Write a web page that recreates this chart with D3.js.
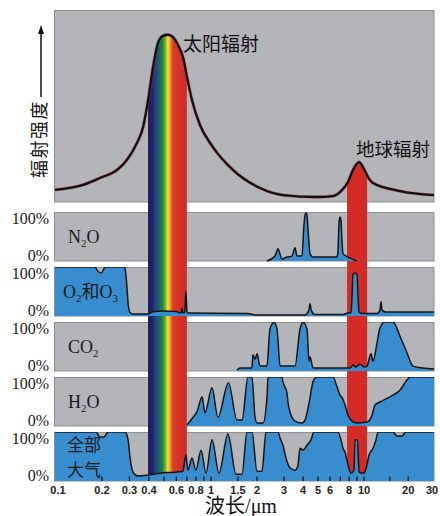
<!DOCTYPE html>
<html>
<head>
<meta charset="utf-8">
<script src="https://cdn.jsdelivr.net/npm/d3@7"></script>
<style>
body { margin: 0; background: #fff; }
svg { display: block; }
</style>
</head>
<body>
<svg id="chart" width="440" height="516"></svg>
<script>
// top panel: [wavelength um, relative intensity]
const solarCurve = [[0.1,6.3],[0.151,8.9],[0.194,12.5],[0.25,16.7],[0.289,21.9],[0.335,30.7],[0.367,39],
  [0.395,53],[0.425,70.3],[0.457,82.8],[0.492,86.5],[0.53,87.1],[0.571,85.9],[0.614,81.8],[0.661,75.5],
  [0.702,65.1],[0.755,53.1],[0.85,40.1],[1.03,28.6],[1.39,16.7],[2.09,7.3],[2.96,3.6],[4.93,2.6],[6.27,3.1],
  [7.29,6.8],[7.86,10.4],[8.47,16.7],[9.28,20.8],[9.85,18.2],[10.65,13],[11.52,9.9],[17.6,5.7],[30,3.6]];

// absorption panels: [wavelength um, absorption %]
const n2o = [[2.32,0],[2.62,10],[2.74,25],[2.91,4],[3.14,8],[3.38,10],[3.54,27],[3.65,10],[3.93,10],
  [4.05,73],[4.12,94],[4.18,98],[4.24,94],[4.31,63],[4.44,15],[4.64,8],[6.66,8],[6.76,21],[6.87,79],
  [6.97,90],[7.07,83],[7.18,42],[7.29,15],[8.1,6],[9.0,0]];
const ozone = [[0.1,100],[0.18,100],[0.19,90],[0.198,88],[0.21,100],[0.278,100],[0.283,92],[0.289,60],
  [0.295,22],[0.303,7],[0.316,4],[0.395,4],[0.42,8],[0.5,10],[0.6,9],[0.642,6],[0.652,16],[0.661,6],
  [0.68,8],[0.69,50],[0.702,8],[0.723,6],[1.72,5],[2.0,2],[4.11,2],[4.36,12],[4.44,25],[4.52,12],[4.78,3],
  [7.29,3],[7.86,6],[8.22,6],[8.35,40],[8.47,85],[8.73,88],[9.0,85],[9.14,40],[9.28,8],[9.7,5],
  [12.26,5],[12.85,12],[13.06,29],[13.26,12],[14.12,8],[30,8]];
const co2 = [[1.48,2],[1.55,6],[1.85,6],[1.88,33],[1.94,24],[2.0,35],[2.09,10],[2.32,10],[2.43,86],
  [2.58,99],[2.7,86],[2.83,10],[3.54,10],[3.82,86],[3.99,99],[4.24,86],[4.37,20],[4.44,29],[4.64,6],
  [8.1,6],[8.47,12],[8.87,8],[9.42,14],[10,8],[10.48,10],[11.16,35],[11.52,20],[12.26,57],[12.85,88],
  [13.9,100],[15.76,100],[17.59,71],[19.64,37],[21.58,10],[25.24,6],[30,4]];
const h2o = [[0.702,2],[0.767,18],[0.813,29],[0.876,59],[0.915,27],[1.015,78],[1.11,18],[1.3,88],
  [1.48,12],[1.595,12],[1.745,100],[1.853,100],[1.94,18],[2.0,6],[2.187,6],[2.323,59],[2.358,100],
  [2.91,100],[2.955,90],[3.14,67],[3.185,49],[3.28,29],[3.54,10],[3.934,6],[4.115,12],[4.436,57],
  [4.64,90],[4.93,100],[6.27,100],[6.66,80],[6.97,63],[7.2,58],[7.51,43],[7.86,22],[8.35,10],[9.0,6],
  [10.48,8],[11.34,22],[11.88,43],[12.85,49],[15.76,63],[17.59,73],[19.64,94],[20.58,100],[30,100]];
const wholeAtmosphere = [[0.1,100],[0.183,100],[0.194,90],[0.206,90],[0.219,100],[0.281,100],[0.294,84],
  [0.303,47],[0.316,18],[0.34,10],[0.395,12],[0.471,16],[0.588,18],[0.661,20],[0.69,53],[0.712,22],
  [0.755,47],[0.801,22],[0.863,63],[0.929,16],[1.015,84],[1.128,16],[1.291,96],[1.457,14],[1.595,14],
  [1.719,100],[1.853,100],[1.999,20],[2.154,20],[2.288,100],[2.74,100],[2.825,88],[2.955,73],[3.09,47],
  [3.28,27],[3.54,22],[3.7,31],[3.817,67],[3.993,63],[4.24,73],[4.505,84],[4.71,100],[6.76,100],
  [7.07,84],[7.29,67],[7.51,59],[7.86,33],[8.22,16],[8.6,22],[8.73,84],[9.07,84],[9.275,18],[10,16],
  [10.48,33],[10.82,53],[11.52,67],[12.07,84],[12.46,100],[15.76,100],[16.79,92],[18.15,92],[19.33,100],[30,100]];

const gasLabels = ["N_2O", "O_2和O_3", "CO_2", "H_2O", "全部\n大气"];
const visibleBand = [0.395, 0.70];
const earthBand = [7.75, 10.5];
const tickValues = [0.2,0.3,0.4,0.5,0.6,0.7,0.8,0.9,1,1.5,2,3,4,5,6,7,8,9,10,15,20];
const tickLabels = ["0.1","0.2","0.3","0.4","0.6","0.8","1","1.5","2","3","4","5","6","8","10","20","30"];

const svg = d3.select("#chart");
const x = d3.scaleLog().domain([0.1, 1, 10, 30]).range([55, 211, 364, 434]);
const yTop = d3.scaleLinear().domain([0, 100]).range([202, 10]);
const gray = "#b4b5b9", blue = "#388dcf";

const panels = [n2o, ozone, co2, h2o, wholeAtmosphere].map((data, i) => {
  const top = 212 + i * 55;
  return {data: data, label: gasLabels[i], top: top, bottom: top + 49,
    y: d3.scaleLinear().domain([0, 100]).range([top + 49, top])};
});

const defs = svg.append("defs");
const grad = defs.append("linearGradient").attr("id", "spectrum")
  .attr("gradientUnits", "userSpaceOnUse")
  .attr("x1", x(visibleBand[0])).attr("x2", x(visibleBand[1])).attr("y1", 0).attr("y2", 0);
[[0, "#1f1848"], [0.1, "#24236a"], [0.2, "#27408c"], [0.3, "#1d6a5c"], [0.38, "#1e8a3a"],
 [0.45, "#7fb82e"], [0.51, "#f2e53c"], [0.57, "#ef9a2a"], [0.64, "#db3a2a"], [1, "#cf2a27"]]
  .forEach(s => grad.append("stop").attr("offset", s[0]).attr("stop-color", s[1]));

defs.append("clipPath").attr("id", "underSun").append("path")
  .attr("d", d3.area().x(d => x(d[0])).y0(481).y1(d => yTop(d[1])).curve(d3.curveMonotoneX)(solarCurve));

// panel backgrounds
svg.append("rect").attr("x", 54.5).attr("y", 10.5).attr("width", 379.5).attr("height", 191.5)
  .attr("fill", gray).attr("stroke", "#8d8e92");
panels.forEach((p, i) => {
  svg.append("rect").attr("x", 54.5).attr("y", p.top + 0.5).attr("width", 379.5).attr("height", 48.5)
    .attr("fill", gray).attr("stroke", "#8d8e92");
  defs.append("clipPath").attr("id", "panel" + i).append("rect")
    .attr("x", 54).attr("y", p.top).attr("width", 381).attr("height", 50);
});

// spectral bands
const bands = svg.append("g").attr("clip-path", "url(#underSun)");
bands.append("rect").attr("x", x(visibleBand[0])).attr("y", 10)
  .attr("width", x(visibleBand[1]) - x(visibleBand[0])).attr("height", 471).attr("fill", "url(#spectrum)");
bands.append("rect").attr("x", x(earthBand[0])).attr("y", 10)
  .attr("width", x(earthBand[1]) - x(earthBand[0])).attr("height", 471).attr("fill", "#d42b27");

// absorption curves
panels.forEach((p, i) => {
  const g = svg.append("g").attr("clip-path", "url(#panel" + i + ")");
  g.append("path").datum(p.data).attr("fill", blue)
    .attr("d", d3.area().x(d => x(d[0])).y0(p.bottom).y1(d => p.y(d[1])).curve(d3.curveMonotoneX));
  g.append("path").datum(p.data).attr("fill", "none").attr("stroke", "#141414").attr("stroke-width", 1.5)
    .attr("d", d3.line().x(d => x(d[0])).y(d => p.y(d[1])).curve(d3.curveMonotoneX));
});

// radiation curve
const sunLine = d3.line().x(d => x(d[0])).y(d => yTop(d[1])).curve(d3.curveMonotoneX);
svg.append("path").datum(solarCurve).attr("fill", "none").attr("stroke", "#c0394a")
  .attr("stroke-width", 3.4).attr("stroke-opacity", 0.45).attr("d", sunLine);
svg.append("path").datum(solarCurve).attr("fill", "none").attr("stroke", "#111")
  .attr("stroke-width", 2.3).attr("d", sunLine);

// ticks on the bottom panel
svg.append("g").selectAll("line").data(tickValues).join("line")
  .attr("x1", d => x(d)).attr("x2", d => x(d)).attr("y1", 481).attr("y2", 476.5)
  .attr("stroke", "#1a1a1a").attr("stroke-width", 1.3);
svg.append("g").selectAll("text").data(tickLabels).join("text")
  .attr("x", d => Math.min(Math.max(x(+d), 58), 432)).attr("y", 494)
  .attr("text-anchor", "middle").attr("font-family", "Liberation Sans, Arial, sans-serif")
  .attr("font-weight", "bold").attr("font-size", 11).attr("fill", "#222").text(d => d);

// panel labels
const serif = "Liberation Serif, Times New Roman, Noto Sans CJK SC, serif";
panels.forEach(p => {
  svg.append("text").attr("x", 49).attr("y", p.top + 12).attr("text-anchor", "end")
    .attr("font-family", serif).attr("font-size", 16).attr("fill", "#1a1a1a").text("100%");
  svg.append("text").attr("x", 49).attr("y", p.bottom).attr("text-anchor", "end")
    .attr("font-family", serif).attr("font-size", 16).attr("fill", "#1a1a1a").text("0%");
  const mid = (p.top + p.bottom) / 2;
  if (p.label.includes("\n")) {
    const t = svg.append("text").attr("y", mid - 6)
      .attr("font-family", "Noto Sans CJK SC, sans-serif").attr("font-size", 17).attr("fill", "#1a1a1a");
    p.label.split("\n").forEach((line, k) => {
      t.append("tspan").attr("x", 67).attr("dy", k ? 25 : 0).text(line);
    });
  } else {
    const t = svg.append("text").attr("x", p.label.startsWith("O") ? 63 : 68).attr("y", mid + 6.5)
      .attr("font-family", serif).attr("font-size", 18).attr("fill", "#1a1a1a");
    p.label.split(/_(\d)/).forEach((part, k) => {
      if (!part) return;
      if (k % 2 === 1) t.append("tspan").attr("font-size", 11).attr("dy", 4).text(part);
      else t.append("tspan").attr("dy", k > 0 ? -4 : 0).text(part);
    });
  }
});

svg.append("text").attr("x", 183).attr("y", 51).attr("font-family", "Noto Sans CJK SC, sans-serif")
  .attr("font-size", 19).attr("fill", "#111").text("太阳辐射");
svg.append("text").attr("x", 356).attr("y", 156).attr("font-family", "Noto Sans CJK SC, sans-serif")
  .attr("font-size", 18.5).attr("fill", "#111").text("地球辐射");

// y axis arrow and title
svg.append("line").attr("x1", 41).attr("x2", 41).attr("y1", 97).attr("y2", 31)
  .attr("stroke", "#111").attr("stroke-width", 1.5);
svg.append("path").attr("d", "M41,25L38,34L44,34Z").attr("fill", "#111");
svg.append("text").attr("transform", "translate(46,139) rotate(-90)").attr("text-anchor", "middle")
  .attr("font-family", "Noto Sans CJK SC, sans-serif").attr("font-size", 18).attr("letter-spacing", 1.5)
  .attr("fill", "#111").text("辐射强度");

svg.append("text").attr("x", 241).attr("y", 513).attr("text-anchor", "middle")
  .attr("font-family", serif).attr("font-size", 20).attr("fill", "#111").text("波长/μm");
</script>
</body>
</html>
